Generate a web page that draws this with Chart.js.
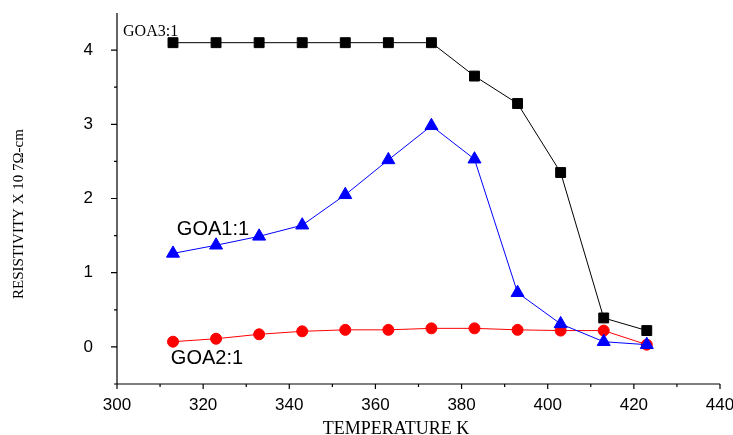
<!DOCTYPE html>
<html>
<head>
<meta charset="utf-8">
<script src="https://cdn.jsdelivr.net/npm/chart.js@4/dist/chart.umd.min.js"></script>
<style>
  html, body { margin: 0; padding: 0; background: #fff; }
  #wrap { width: 733px; height: 435px; }
</style>
</head>
<body>
<div id="wrap"><canvas id="c" width="733" height="435"></canvas></div>
<script>
// Temperaturas (K) y resistividades
const temps = [313, 323, 333, 343, 353, 363, 373, 383, 393, 403, 413, 423];
const goa31 = [4.10, 4.10, 4.10, 4.10, 4.10, 4.10, 4.10, 3.65, 3.28, 2.35, 0.39, 0.22];
const goa11 = [1.26, 1.37, 1.49, 1.64, 2.05, 2.52, 2.98, 2.53, 0.73, 0.31, 0.07, 0.03];
const goa21 = [0.07, 0.11, 0.17, 0.21, 0.23, 0.23, 0.25, 0.25, 0.23, 0.22, 0.22, 0.03];

const xTicks = [300, 320, 340, 360, 380, 400, 420, 440];
const xMinor = [310, 330, 350, 370, 390, 410, 430];
const yTicks = [0, 1, 2, 3, 4];
const yMinor = [-0.5, 0.5, 1.5, 2.5, 3.5];

// etiquetas de series: [texto, x, y, fuente]
const notes = [
  ["GOA3:1", 301.4, 4.24, "16px 'Liberation Serif', 'Times New Roman', serif"],
  ["GOA1:1", 313.9, 1.58, "20px 'Liberation Sans', Arial, sans-serif"],
  ["GOA2:1", 312.5, -0.15, "20px 'Liberation Sans', Arial, sans-serif"],
];

const SANS = "'Liberation Sans', Arial, sans-serif";
const SERIF = "'Liberation Serif', 'Times New Roman', serif";

const pts = (ys) => temps.map((t, i) => ({ x: t, y: ys[i] }));

// sin relleno automatico: el area del grafico la fija layout.padding
const noPad = (s) => { s.paddingTop = 0; s.paddingBottom = 0; s.paddingLeft = 0; s.paddingRight = 0; };

// ejes estilo Origin: linea izquierda e inferior con marcas hacia afuera
const axesPlugin = {
  id: "axes",
  afterDraw(chart) {
    const { ctx, chartArea: a, scales: { x, y } } = chart;
    ctx.save();
    ctx.strokeStyle = "#000";
    ctx.lineWidth = 1.2;
    ctx.beginPath();
    ctx.moveTo(a.left, a.top); ctx.lineTo(a.left, a.bottom); ctx.lineTo(a.right, a.bottom);
    xTicks.forEach((v) => { const p = x.getPixelForValue(v); ctx.moveTo(p, a.bottom); ctx.lineTo(p, a.bottom + 5); });
    xMinor.forEach((v) => { const p = x.getPixelForValue(v); ctx.moveTo(p, a.bottom); ctx.lineTo(p, a.bottom + 3); });
    yTicks.forEach((v) => { const p = y.getPixelForValue(v); ctx.moveTo(a.left, p); ctx.lineTo(a.left - 6, p); });
    yMinor.forEach((v) => { const p = y.getPixelForValue(v); ctx.moveTo(a.left, p); ctx.lineTo(a.left - 3, p); });
    ctx.stroke();

    // textos de series
    ctx.fillStyle = "#000";
    ctx.textBaseline = "middle";
    ctx.textAlign = "left";
    notes.forEach(([t, vx, vy, f]) => {
      ctx.font = f;
      ctx.fillText(t, x.getPixelForValue(vx), y.getPixelForValue(vy));
    });

    // titulos de ejes
    ctx.font = "18px " + SERIF;
    ctx.textAlign = "center";
    ctx.textBaseline = "alphabetic";
    ctx.fillText("TEMPERATURE K", 396, 434);
    ctx.font = "15px " + SERIF;
    ctx.translate(23, 214);
    ctx.rotate(-Math.PI / 2);
    ctx.fillText("RESISTIVITY X 10 7Ω-cm", 0, 0);
    ctx.restore();
  },
};

new Chart(document.getElementById("c"), {
  type: "line",
  data: {
    datasets: [
      { label: "GOA3:1", data: pts(goa31), borderColor: "#000", backgroundColor: "#000",
        pointStyle: "rect", pointRadius: 7, borderWidth: 1 },
      { label: "GOA1:1", data: pts(goa11), borderColor: "#0000ff", backgroundColor: "#0000ff",
        pointStyle: "triangle", pointRadius: 7.5, borderWidth: 1 },
      { label: "GOA2:1", data: pts(goa21), borderColor: "#ff0000", backgroundColor: "#ff0000",
        pointStyle: "circle", pointRadius: 5.5, borderWidth: 1 },
    ],
  },
  options: {
    responsive: false,
    animation: false,
    layout: { padding: { top: 13, right: 13, left: 0, bottom: 0 } },
    plugins: { legend: { display: false }, tooltip: { enabled: false } },
    elements: { point: { borderWidth: 0 }, line: { tension: 0 } },
    scales: {
      x: {
        type: "linear", min: 300, max: 440,
        grid: { display: false }, border: { display: false },
        afterBuildTicks: (s) => { s.ticks = xTicks.map((v) => ({ value: v })); },
        afterFit: (s) => { s.height = 51; noPad(s); },
        ticks: { color: "#000", padding: 3, font: { family: SANS, size: 17 } },
      },
      y: {
        type: "linear", min: -0.5, max: 4.5,
        grid: { display: false }, border: { display: false },
        afterBuildTicks: (s) => { s.ticks = yTicks.map((v) => ({ value: v })); },
        afterFit: (s) => { s.width = 117; noPad(s); },
        ticks: { color: "#000", padding: 16, font: { family: SANS, size: 17 } },
      },
    },
  },
  plugins: [axesPlugin],
});
</script>
</body>
</html>
